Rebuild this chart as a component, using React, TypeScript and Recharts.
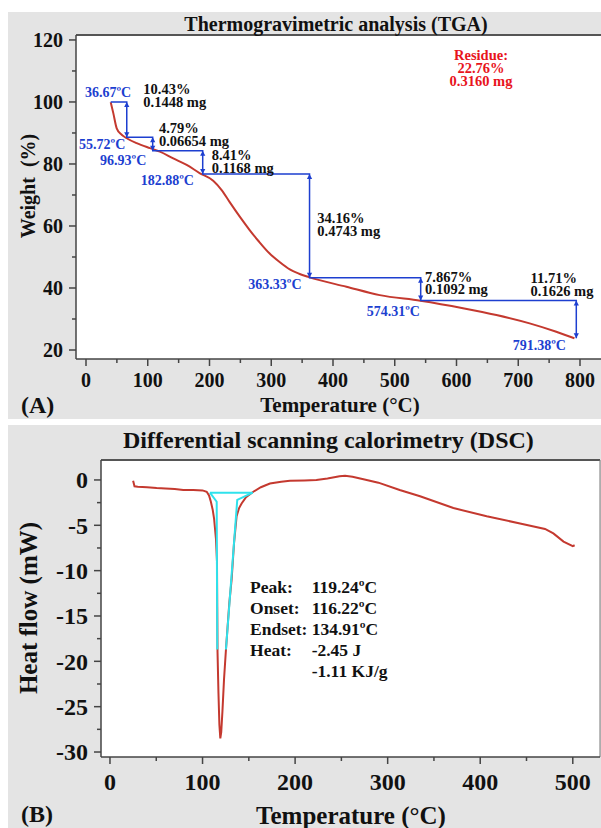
import React from 'react';
import { LineChart, Line, XAxis, YAxis, ReferenceLine, CartesianGrid } from 'recharts';

const SERIF = '"Liberation Serif", "Times New Roman", serif';
const AX = '#444';
const BLUE = '#1d3fd0';
const RED = '#c4392f';
const RES_RED = '#e8141c';
const CYAN = '#2fe2ec';
const BG = '#e4e4e4';

// ---------- TGA (panel A) ----------
const tgaTemp = [40, 44.2, 49.7, 57.8, 65.9, 82, 103.6, 119.7, 141.3, 163, 184.5, 206, 220, 233, 249, 265, 280, 297, 314, 330, 345, 361, 421.8, 475.7, 541.6, 610.5, 664.6, 718.4, 761.6, 791];
const tgaWeight = [99.9, 96.4, 91.5, 89.4, 88.3, 86.7, 85.1, 84, 81.8, 79.7, 77, 74.6, 71.5, 67.6, 63, 58.7, 55, 51.2, 48.3, 46, 44.6, 43.5, 40.4, 37.7, 35.9, 33.5, 31.3, 28.6, 25.9, 23.8];

// staircase of weight-loss steps
const stepTemp = [40, 66, 66, 108, 108, 189, 189, 362, 362, 542, 542, 794, 794];
const stepWeight = [100, 100, 88.6, 88.6, 84.3, 84.3, 76.8, 76.8, 43.3, 43.3, 36.0, 36.0, 23.8];

const tgaTicksX = [0, 50, 100, 150, 200, 250, 300, 350, 400, 450, 500, 550, 600, 650, 700, 750, 800];
const tgaTicksY = [20, 30, 40, 50, 60, 70, 80, 90, 100, 110, 120];

// annotation texts (TGA)
const tgaBlueText = ['36.67ºC', '55.72ºC', '96.93ºC', '182.88ºC', '363.33ºC', '574.31ºC', '791.38ºC'];
const tgaBlueX = [-1.6, -11.3, 22.7, 88.6, 262.8, 454.6, 691];
const tgaBlueY = [103.1, 86.3, 81.3, 74.8, 41.2, 32.4, 21.6];

const lossPct = ['10.43%', '4.79%', '8.41%', '34.16%', '7.867%', '11.71%'];
const lossMg = ['0.1448 mg', '0.06654 mg', '0.1168 mg', '0.4743 mg', '0.1092 mg', '0.1626 mg'];
const lossX = [92.8, 118.2, 203.6, 374.6, 549, 720];
const lossY = [104.1, 91.5, 82.9, 62.5, 43.6, 43.1];

const residueLines = ['Residue:', '22.76%', '0.3160 mg'];
const residueX = 639.7;
const residueY = 115.2;

// ---------- DSC (panel B) ----------
const dscTemp = [25, 26.5, 30, 40, 50.4, 60, 70, 79.2, 90, 100, 104.5, 107, 109, 111, 112.5, 113.4, 114.5, 115.6, 115.9, 116.2, 117.2, 118.2, 119.2, 120.2, 121.5, 123.2, 125.3, 127, 129, 131.4, 134, 136.8, 139.5, 142.2, 147, 154.8, 163, 172.8, 185, 194.4, 210, 223, 235, 248, 254, 262, 275, 290, 313, 335, 371, 407, 443, 470, 479, 490, 500, 502];
const dscHeat = [-0.1, -0.7, -0.75, -0.8, -0.9, -0.95, -1.0, -1.1, -1.1, -1.15, -1.3, -1.7, -2.4, -3.3, -4.3, -5.3, -6.5, -9, -14, -19, -23.5, -27, -28.5, -27.8, -25.5, -22, -18.7, -16.3, -13.5, -11, -7, -4, -3.1, -2.6, -1.9, -1.3, -0.8, -0.4, -0.2, -0.1, -0.05, 0, 0.15, 0.4, 0.45, 0.35, 0.05, -0.3, -1.1, -1.8, -3.1, -4.0, -4.8, -5.4, -5.9, -6.8, -7.3, -7.2];

const cyanBaseT = [108, 154.2];
const cyanBaseH = [-1.4, -1.4];
const cyanLeftT = [108, 115.3, 115.9];
const cyanLeftH = [-1.4, -2.4, -18.7];
const cyanRightT = [154.2, 137.5, 125.3];
const cyanRightH = [-1.4, -2.2, -18.7];

const dscTicksX = [0, 50, 100, 150, 200, 250, 300, 350, 400, 450, 500];
const dscTicksY = [-30, -27.5, -25, -22.5, -20, -17.5, -15, -12.5, -10, -7.5, -5, -2.5, 0];

const dscInfoKeys = ['Peak:', 'Onset:', 'Endset:', 'Heat:', ''];
const dscInfoVals = ['119.24ºC', '116.22ºC', '134.91ºC', '-2.45 J', '-1.11 KJ/g'];
const dscInfoX = [151.3, 217.9];
const dscInfoY = -11.79;

// ---------- helpers ----------
const zip = (xs: number[], ys: number[]) => xs.map((x, i) => ({ x, y: ys[i] }));

type Lab = { x: number; y: number; lines: string[]; color: string; size: number; weight: string; anchor: string; lh: number };

const renderText = (p: any) => {
  const { cx, cy, payload, index } = p;
  const d = payload as Lab;
  return (
    <text key={`t${index}`} x={cx} y={cy} textAnchor={d.anchor} fill={d.color}
      fontSize={d.size} fontWeight={d.weight} fontFamily={SERIF}>
      {d.lines.map((ln, i) => (
        <tspan key={i} x={cx} dy={i === 0 ? '0.35em' : d.lh}>{ln}</tspan>
      ))}
    </text>
  );
};

const renderArrow = (p: any) => {
  const { cx, cy, index } = p;
  if (index === 0) return <g key="a0" />;
  const s = index % 2 === 1 ? 1 : -1;
  const pts = `${cx},${cy} ${cx - 2.6},${cy + s * 5} ${cx + 2.6},${cy + s * 5}`;
  return <polygon key={`a${index}`} points={pts} fill={BLUE} />;
};

const isMajor = (v: number, step: number) => Math.abs(v / step - Math.round(v / step)) < 1e-6;

const makeXTick = (fs: number, step: number, gap: number) => (p: any) => {
  const { x, y, payload } = p;
  const v = payload.value;
  const major = isMajor(v, step);
  return (
    <g>
      <line x1={x} x2={x} y1={y} y2={y + (major ? 7 : 4)} stroke={AX} strokeWidth={1.5} />
      {major && (
        <text x={x} y={y + gap} dy="0.35em" textAnchor="middle" fontSize={fs} fontWeight="bold" fontFamily={SERIF} fill="#111">
          {v}
        </text>
      )}
    </g>
  );
};

const makeYTick = (fs: number, step: number, gap: number) => (p: any) => {
  const { x, y, payload } = p;
  const v = payload.value;
  const major = isMajor(v, step);
  return (
    <g>
      <line x1={x} x2={x - (major ? 7 : 4)} y1={y} y2={y} stroke={AX} strokeWidth={1.5} />
      {major && (
        <text x={x - gap} y={y} dy="0.35em" textAnchor="end" fontSize={fs} fontWeight="bold" fontFamily={SERIF} fill="#111">
          {v}
        </text>
      )}
    </g>
  );
};

const abs = (left: number, top: number, extra: any = {}) => ({
  position: 'absolute' as const, left, top, fontFamily: SERIF, fontWeight: 'bold' as const, color: '#111',
  whiteSpace: 'nowrap' as const, lineHeight: 1, ...extra,
});

const TGA_X_DOMAIN: [number, number] = [-16.2, 834];
const TGA_Y_DOMAIN: [number, number] = [17.1, 121.6];
const DSC_X_DOMAIN: [number, number] = [-9.7, 529.4];
const DSC_Y_DOMAIN: [number, number] = [-30.55, 2.2];

export default function App() {
  const tgaCurve = zip(tgaTemp, tgaWeight);
  const steps = zip(stepTemp, stepWeight);
  const tgaLabels: Lab[] = [
    ...tgaBlueText.map((t, i) => ({ x: tgaBlueX[i], y: tgaBlueY[i], lines: [t], color: BLUE, size: 14, weight: 'bold', anchor: 'start', lh: 0 })),
    ...lossPct.map((t, i) => ({ x: lossX[i], y: lossY[i], lines: [t, lossMg[i]], color: '#111', size: 14.5, weight: 'bold', anchor: 'start', lh: 12.5 })),
    { x: residueX, y: residueY, lines: residueLines, color: RES_RED, size: 14.5, weight: 'bold', anchor: 'middle', lh: 13 },
  ];
  const dscCurve = zip(dscTemp, dscHeat);
  const dscLabels: Lab[] = [
    { x: dscInfoX[0], y: dscInfoY, lines: dscInfoKeys, color: '#111', size: 17.5, weight: 'bold', anchor: 'start', lh: 21 },
    { x: dscInfoX[1], y: dscInfoY, lines: dscInfoVals, color: '#111', size: 17.5, weight: 'bold', anchor: 'start', lh: 21 },
  ];

  return (
    <div style={{ position: 'fixed', left: 0, top: 0, width: 601, height: 828, overflow: 'hidden', background: '#fff' }}>
      {/* Panel A */}
      <div style={{ position: 'absolute', left: 8, top: 12, width: 593, height: 407, background: BG }}>
        <LineChart width={593} height={407} margin={{ top: 23, right: 0, bottom: 0, left: 0 }}>
          <CartesianGrid fill="#fff" stroke="none" horizontal={false} vertical={false} />
          <XAxis dataKey="x" type="number" domain={TGA_X_DOMAIN} allowDataOverflow ticks={tgaTicksX} interval={0}
            height={60} tickLine={false} tickSize={0} tickMargin={0} tick={makeXTick(20, 100, 21)}
            axisLine={{ stroke: AX, strokeWidth: 1.5 }} />
          <YAxis dataKey="y" type="number" domain={TGA_Y_DOMAIN} allowDataOverflow ticks={tgaTicksY} interval={0}
            width={68} tickLine={false} tickSize={0} tickMargin={0} tick={makeYTick(20, 20, 13)}
            axisLine={{ stroke: AX, strokeWidth: 1.5 }} />
          <ReferenceLine y={TGA_Y_DOMAIN[1]} stroke="#555" strokeWidth={2} ifOverflow="visible" />
          <Line data={tgaCurve} dataKey="y" stroke={RED} strokeWidth={2} dot={false} activeDot={false} isAnimationActive={false} type="monotone" />
          <Line data={steps} dataKey="y" stroke={BLUE} strokeWidth={1.5} dot={renderArrow} activeDot={false} isAnimationActive={false} type="linear" />
          <Line data={tgaLabels} dataKey="y" stroke="none" dot={renderText} activeDot={false} isAnimationActive={false} />
        </LineChart>
        <div style={abs(328, 12, { fontSize: 20, transform: 'translate(-50%,-50%)' })}>Thermogravimetric analysis (TGA)</div>
        <div style={abs(20, 174, { fontSize: 20, transform: 'translate(-50%,-50%) rotate(-90deg)' })}>Weight&nbsp;&nbsp;(%)</div>
        <div style={abs(332, 393, { fontSize: 21, transform: 'translate(-50%,-50%)' })}>Temperature (°C)</div>
        <div style={abs(13, 381, { fontSize: 24 })}>(A)</div>
      </div>

      {/* Panel B */}
      <div style={{ position: 'absolute', left: 8, top: 425, width: 593, height: 403, background: BG }}>
        <LineChart width={593} height={403} margin={{ top: 35, right: 1, bottom: 0, left: 0 }}>
          <CartesianGrid fill="#fff" stroke="none" horizontal={false} vertical={false} />
          <XAxis dataKey="x" type="number" domain={DSC_X_DOMAIN} allowDataOverflow ticks={dscTicksX} interval={0}
            height={71} tickLine={false} tickSize={0} tickMargin={0} tick={makeXTick(24, 100, 24.5)}
            axisLine={{ stroke: AX, strokeWidth: 1.5 }} />
          <YAxis dataKey="y" type="number" domain={DSC_Y_DOMAIN} allowDataOverflow ticks={dscTicksY} interval={0}
            width={93} tickLine={false} tickSize={0} tickMargin={0} tick={makeYTick(24, 5, 13)}
            axisLine={{ stroke: AX, strokeWidth: 1.5 }} />
          <ReferenceLine y={DSC_Y_DOMAIN[1]} stroke="#555" strokeWidth={2} ifOverflow="visible" />
          <ReferenceLine x={DSC_X_DOMAIN[1]} stroke="#777" strokeWidth={1} ifOverflow="visible" />
          <Line data={dscCurve} dataKey="y" stroke={RED} strokeWidth={2} dot={false} activeDot={false} isAnimationActive={false} type="linear" />
          <Line data={zip(cyanBaseT, cyanBaseH)} dataKey="y" stroke={CYAN} strokeWidth={2} dot={false} activeDot={false} isAnimationActive={false} type="linear" />
          <Line data={zip(cyanLeftT, cyanLeftH)} dataKey="y" stroke={CYAN} strokeWidth={2} dot={false} activeDot={false} isAnimationActive={false} type="linear" />
          <Line data={zip(cyanRightT, cyanRightH)} dataKey="y" stroke={CYAN} strokeWidth={2} dot={false} activeDot={false} isAnimationActive={false} type="linear" />
          <Line data={dscLabels} dataKey="y" stroke="none" dot={renderText} activeDot={false} isAnimationActive={false} />
        </LineChart>
        <div style={abs(115, 3, { fontSize: 24 })}>Differential scanning calorimetry (DSC)</div>
        <div style={abs(20, 183, { fontSize: 25, transform: 'translate(-50%,-50%) rotate(-90deg)' })}>Heat flow (mW)</div>
        <div style={abs(343, 390, { fontSize: 25, transform: 'translate(-50%,-50%)' })}>Temperature (°C)</div>
        <div style={abs(13, 377, { fontSize: 24 })}>(B)</div>
      </div>
    </div>
  );
}
